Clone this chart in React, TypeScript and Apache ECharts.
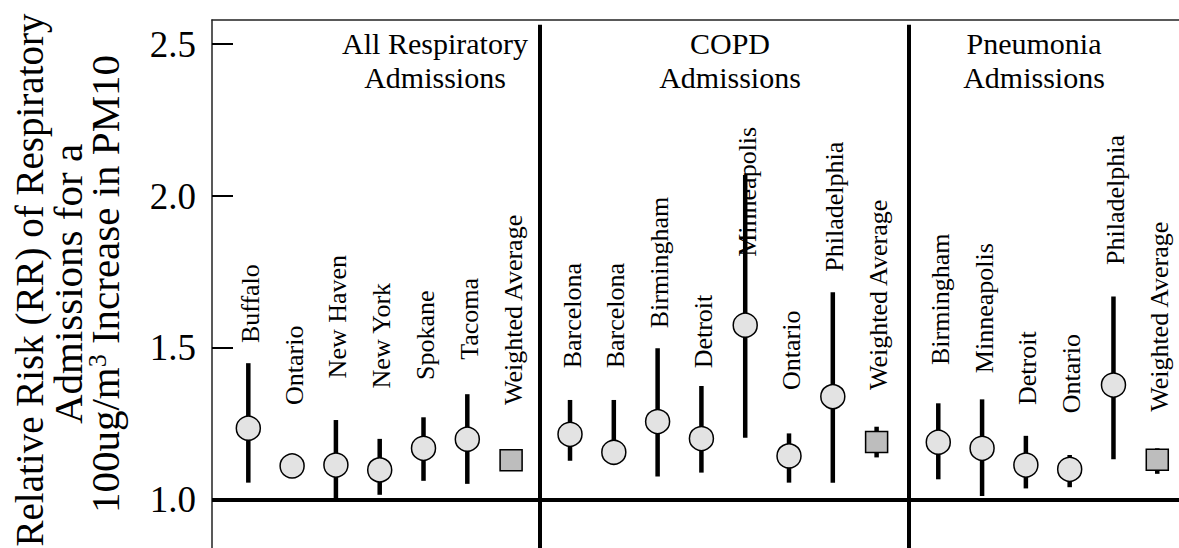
import React, { useEffect, useRef } from "react";
import * as echarts from "echarts";

// ---- data ----
const respCities = ["Buffalo", "Ontario", "New Haven", "New York", "Spokane", "Tacoma", "Weighted Average"];
const respRR = [1.236, 1.112, 1.115, 1.099, 1.17, 1.2, 1.131];
const respLow = [1.057, 1.09, 1.0, 1.017, 1.063, 1.053, 1.1];
const respHigh = [1.45, 1.13, 1.263, 1.201, 1.272, 1.348, 1.16];
const respLabelAt = [1.516, 1.3125, 1.4, 1.367, 1.395, 1.461, 1.3125];

const copdCities = ["Barcelona", "Barcelona", "Birmingham", "Detroit", "Minneapolis", "Ontario", "Philadelphia", "Weighted Average"];
const copdRR = [1.216, 1.157, 1.258, 1.202, 1.575, 1.145, 1.34, 1.191];
const copdLow = [1.129, 1.14, 1.077, 1.09, 1.205, 1.057, 1.057, 1.14];
const copdHigh = [1.329, 1.329, 1.499, 1.375, 2.069, 1.219, 1.683, 1.241];
const copdLabelAt = [1.433, 1.433, 1.565, 1.433, 1.8, 1.362, 1.751, 1.362];

const pneuCities = ["Birmingham", "Minneapolis", "Detroit", "Ontario", "Philadelphia", "Weighted Average"];
const pneuRR = [1.19, 1.17, 1.115, 1.101, 1.378, 1.132];
const pneuLow = [1.068, 1.013, 1.038, 1.042, 1.134, 1.086];
const pneuHigh = [1.318, 1.331, 1.211, 1.148, 1.669, 1.17];
const pneuLabelAt = [1.444, 1.417, 1.3125, 1.285, 1.773, 1.29];

const groupTitles = ["All Respiratory\nAdmissions", "COPD\nAdmissions", "Pneumonia\nAdmissions"];
const yTickValues = [1.0, 1.5, 2.0, 2.5];
const yTitleLines = ["Relative Risk (RR) of Respiratory", "Admissions for a", "100ug/m{sup|3} Increase in PM10"];

// ---- layout ----
const FONT = "Liberation Serif";
const groupOffsets = [0, 7.345, 15.753];
const dividerX = [6.66, 15.07];
const X_MIN = -0.829;
const X_MAX = 21.249;
const Y_MIN = 0.842;
const Y_MAX = 2.579;

type Row = { name: string; x: number; rr: number; lo: number; hi: number; labelAt: number };

function buildRows(): Row[] {
  const groups = [
    [respCities, respRR, respLow, respHigh, respLabelAt],
    [copdCities, copdRR, copdLow, copdHigh, copdLabelAt],
    [pneuCities, pneuRR, pneuLow, pneuHigh, pneuLabelAt],
  ] as [string[], number[], number[], number[], number[]][];
  const rows: Row[] = [];
  groups.forEach((g, gi) => {
    const [names, rr, lo, hi, la] = g;
    names.forEach((n, i) => {
      rows.push({ name: n, x: groupOffsets[gi] + i, rr: rr[i], lo: lo[i], hi: hi[i], labelAt: la[i] });
    });
  });
  return rows;
}

export default function App() {
  const ref = useRef<HTMLDivElement>(null);
  useEffect(() => {
    if (!ref.current) return;
    const chart = echarts.init(ref.current, undefined, { renderer: "svg" });
    const rows = buildRows();
    const cityRows = rows.filter((r) => r.name !== "Weighted Average");
    const avgRows = rows.filter((r) => r.name === "Weighted Average");

    const option: any = {
      animation: false,
      backgroundColor: "#ffffff",
      textStyle: { fontFamily: FONT },
      grid: { left: 212, top: 20, right: 0, bottom: 0 },
      xAxis: {
        type: "value",
        min: X_MIN,
        max: X_MAX,
        position: "top",
        axisLine: { show: true, onZero: false, lineStyle: { color: "#222", width: 1.5 } },
        axisTick: { show: false },
        axisLabel: { show: false },
        splitLine: { show: false },
      },
      yAxis: {
        type: "value",
        min: Y_MIN,
        max: Y_MAX,
        axisLine: { show: true, onZero: false, lineStyle: { color: "#222", width: 1.5 } },
        axisTick: {
          show: true,
          inside: true,
          length: 21,
          lineStyle: { color: "#000", width: 2 },
          customValues: yTickValues.filter((v) => v > 1.0),
        },
        axisLabel: {
          customValues: yTickValues,
          formatter: (v: number) => v.toFixed(1),
          fontSize: 37,
          fontFamily: FONT,
          color: "#000",
          margin: 16,
        },
        splitLine: { show: false },
      },
      graphic: [
        ...groupTitles.map((t, i) => ({
          type: "text",
          x: [435, 730, 1034][i],
          y: 26,
          silent: true,
          style: {
            text: t,
            fontSize: 30,
            fontFamily: FONT,
            fill: "#000",
            align: "center",
            verticalAlign: "top",
            lineHeight: 34,
          },
        })),
        ...yTitleLines.map((t, i) => ({
          type: "text",
          x: [29, 68, 105][i],
          y: [280, 284, 284][i],
          rotation: Math.PI / 2,
          silent: true,
          style: {
            text: t,
            fontSize: [39, 41, 41][i],
            fontFamily: FONT,
            fill: "#000",
            align: "center",
            verticalAlign: "middle",
            rich: {
              sup: { fontSize: 26, fontFamily: FONT, fill: "#000", verticalAlign: "top", padding: [0, 0, 16, 0] },
            },
          },
        })),
      ],
      series: [
        {
          type: "custom",
          name: "ci",
          z: 2,
          data: rows.map((r) => [r.x, r.lo, r.hi]),
          renderItem: (params: any, api: any) => {
            const p1 = api.coord([api.value(0), api.value(1)]);
            const p2 = api.coord([api.value(0), api.value(2)]);
            return {
              type: "line",
              shape: { x1: p1[0], y1: p1[1], x2: p2[0], y2: p2[1] },
              style: { stroke: "#000", lineWidth: 4.5 },
            };
          },
        },
        {
          type: "scatter",
          name: "cities",
          z: 3,
          symbol: "circle",
          symbolSize: 24,
          itemStyle: { color: "#e3e3e3", borderColor: "#000", borderWidth: 1.5, opacity: 1 },
          data: cityRows.map((r) => [r.x, r.rr]),
          markLine: {
            silent: true,
            symbol: "none",
            label: { show: false },
            lineStyle: { color: "#000", width: 4, type: "solid" },
            data: [
              { yAxis: 1.0 },
              ...dividerX.map((d) => [{ coord: [d, 2.563] }, { coord: [d, Y_MIN] }]),
            ],
          },
        },
        {
          type: "scatter",
          name: "averages",
          z: 3,
          symbol: "rect",
          symbolSize: [22, 21],
          itemStyle: { color: "#bdbdbd", borderColor: "#000", borderWidth: 1.5, opacity: 1 },
          data: avgRows.map((r) => [r.x, r.rr]),
        },
        {
          type: "custom",
          name: "labels",
          z: 4,
          data: rows.map((r) => [r.x, r.labelAt]),
          renderItem: (params: any, api: any) => {
            const p = api.coord([api.value(0), api.value(1)]);
            return {
              type: "text",
              x: p[0] + 2,
              y: p[1],
              rotation: Math.PI / 2,
              style: {
                text: rows[params.dataIndex].name,
                fontSize: 26,
                fontFamily: FONT,
                fill: "#000",
                align: "left",
                verticalAlign: "middle",
              },
            };
          },
        },
      ],
    };
    chart.setOption(option);
    return () => chart.dispose();
  }, []);
  return (
    <div
      ref={ref}
      style={{ position: "fixed", left: 0, top: 0, width: 1179, height: 548, background: "#fff" }}
    />
  );
}
